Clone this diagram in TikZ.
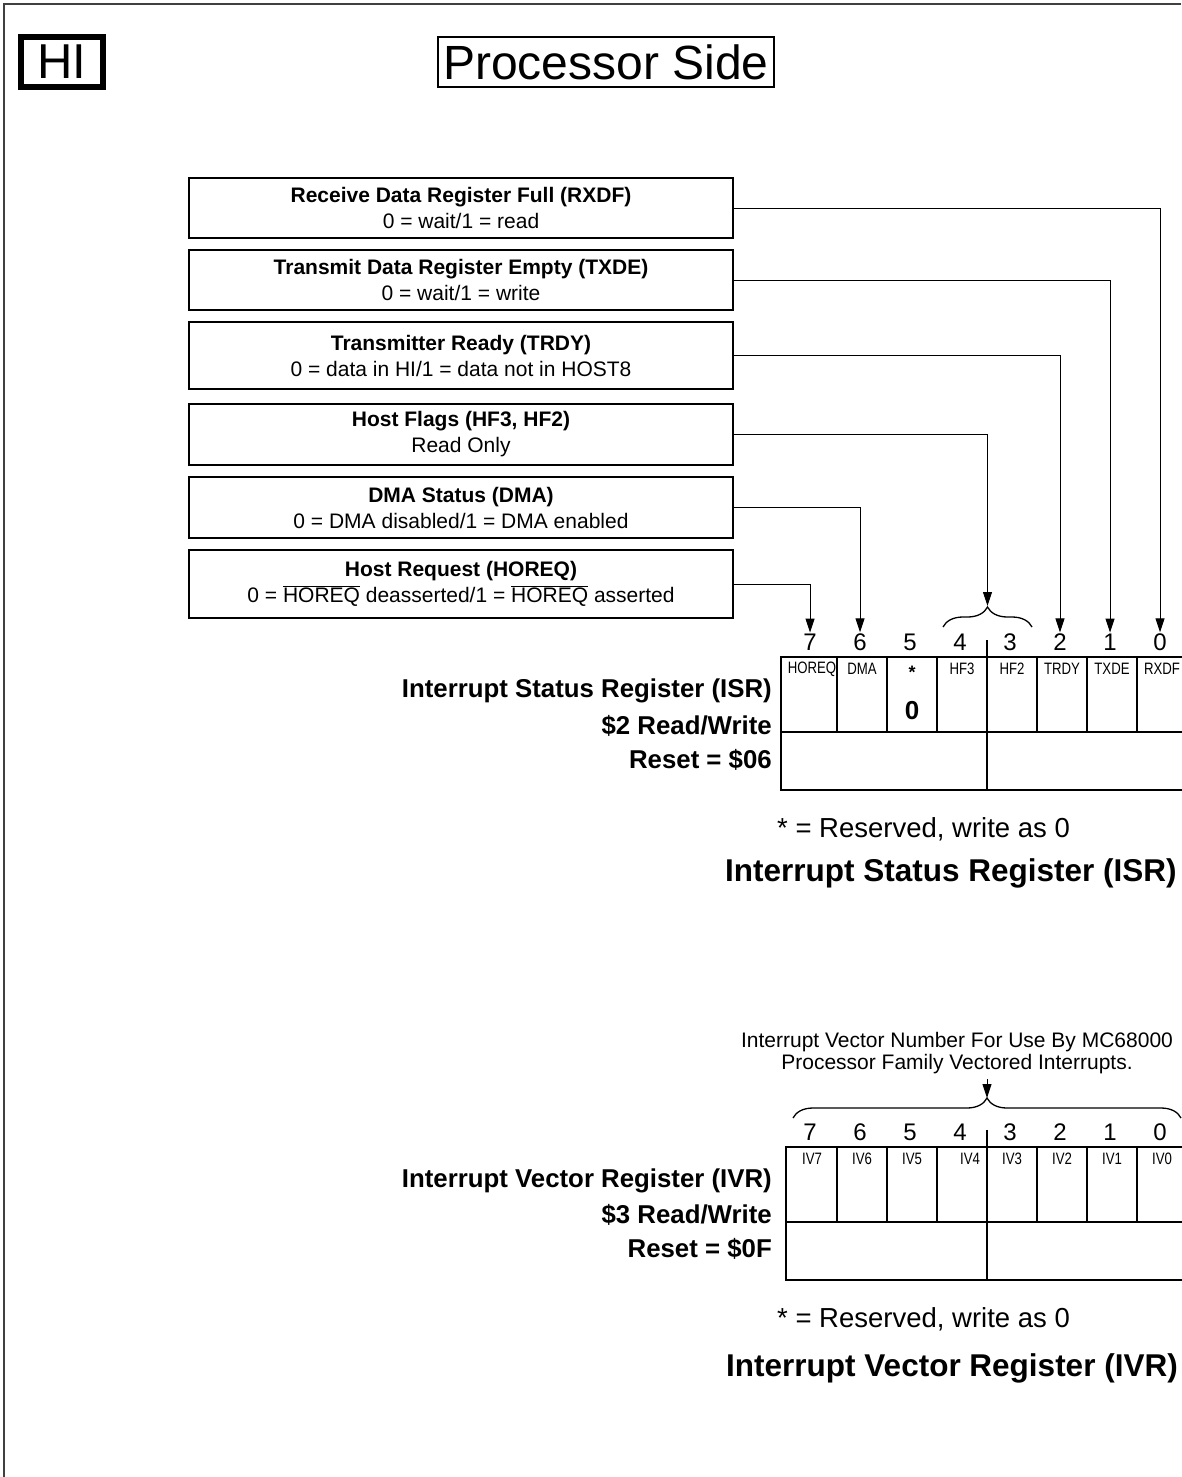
\documentclass[tikz,border=0pt]{standalone}
\usepackage{fontspec}
\setmainfont{Liberation Sans}
\newfontfamily\narrowfont[FakeStretch=0.8]{Liberation Sans}
\usetikzlibrary{positioning, calc, arrows.meta, decorations.pathreplacing}

\begin{document}
\begin{tikzpicture}[
    x=1pt, y=-1pt,
    descbox/.style={
        draw,
        line width=1.2pt,
        minimum width=544pt,
        inner sep=0pt,
        align=center,
        font=\fontsize{21}{26}\selectfont
    },
    bitnum/.style={
        font=\fontsize{24}{24}\selectfont,
        inner sep=1pt
    },
    celltag/.style={
        font=\narrowfont\fontsize{16.5}{16.5}\selectfont,
        inner sep=0pt
    },
    reglabel/.style={
        font=\bfseries\fontsize{25.8}{25.8}\selectfont,
        anchor=east,
        inner sep=0pt
    },
    notetext/.style={
        font=\fontsize{27.5}{27.5}\selectfont,
        anchor=west,
        inner sep=0pt
    },
    heading/.style={
        font=\bfseries\fontsize{31.5}{31.5}\selectfont,
        anchor=west,
        inner sep=0pt
    },
    arrow/.style={
        -{Triangle[length=14pt, width=9pt]},
        line width=1pt
    },
    regline/.style={
        line width=1.3pt
    },
    bracket/.style={
        decorate,
        decoration={brace, amplitude=#1},
        line width=1.3pt
    }
]

\useasboundingbox (0,0) rectangle (1181,1477);

% Page frame (open to the right and bottom)
\draw[line width=2pt, black!75] (1181,4) -- (4,4) -- (4,1477);

% Title boxes
\node[draw, line width=6pt, minimum width=82pt, minimum height=50pt,
      inner sep=0pt, font=\fontsize{49}{49}\selectfont] (hi) at (62,62) {HI};
\node[draw, line width=2pt, minimum width=336pt, minimum height=50pt,
      inner sep=0pt, font=\fontsize{48}{48}\selectfont] (side) at (606,62) {Processor Side};

% Bit descriptions
\node[descbox, minimum height=60pt] (rxdf) at (461,208)
    {\textbf{Receive Data Register Full (RXDF)}\\0 = wait/1 = read};
\node[descbox, minimum height=60pt] (txde) at (461,280)
    {\textbf{Transmit Data Register Empty (TXDE)}\\0 = wait/1 = write};
\node[descbox, minimum height=67pt] (trdy) at (461,355.5)
    {\textbf{Transmitter Ready (TRDY)}\\0 = data in HI/1 = data not in HOST8};
\node[descbox, minimum height=61pt] (hf) at (461,434.5)
    {\textbf{Host Flags (HF3, HF2)}\\Read Only};
\node[descbox, minimum height=61pt] (dma) at (461,507.5)
    {\textbf{DMA Status (DMA)}\\0 = DMA disabled/1 = DMA enabled};
\node[descbox, minimum height=68pt] (horeq) at (461,584)
    {\textbf{Host Request (HOREQ)}\\0 = $\overline{\mbox{HOREQ}}$ deasserted/1 = $\overline{\mbox{HOREQ}}$ asserted};

% Macro: one 8-bit register with split lower half
\newcommand{\drawregister}[3]{%
  % #1 = top y, #2 = left x, #3 = name prefix
  \draw[regline] (#2,#1) rectangle (1195,#1+133);
  \draw[regline] (#2,#1+75) -- (1195,#1+75);
  \foreach \k in {0,...,6} {
    \draw[regline] (837+50*\k,#1) -- (837+50*\k,#1+75);
  }
  \draw[regline] (987,#1-17) -- (987,#1+133);
  \foreach \b in {0,...,7} {
    \node[bitnum] (#3\b) at (1160-50*\b,#1-15) {\b};
  }
}

% ISR
\drawregister{657}{781}{isr}
\foreach \b/\tag in {7/HOREQ, 6/DMA, 4/HF3, 3/HF2, 2/TRDY, 1/TXDE, 0/RXDF} {
  \node[celltag] at (1162-50*\b,669) {\tag};
}
\node[font=\bfseries\fontsize{18}{18}\selectfont, inner sep=0pt] at (912,672) {*};
\node[font=\bfseries\fontsize{26}{26}\selectfont, inner sep=0pt] at (912,711) {0};

\node[reglabel] at (772,691) {Interrupt Status Register (ISR)};
\node[reglabel] at (772,726) {\$2 Read/Write};
\node[reglabel] at (772,760) {Reset = \$06};

\draw[bracket=20pt] (943,627) -- (1032,627);
\coordinate (hftip) at (987.5,606);

\draw[arrow] (rxdf.east) -| (isr0.north);
\draw[arrow] (txde.east) -| (isr1.north);
\draw[arrow] (trdy.east) -| (isr2.north);
\draw[arrow] (hf.east) -| (hftip);
\draw[arrow] (dma.east) -| (isr6.north);
\draw[arrow] (horeq.east) -| (isr7.north);

\node[notetext] at (777,829) {* = Reserved, write as 0};
\node[heading] (isrhead) at (725,873) {Interrupt Status Register (ISR)};

% IVR
\node[align=center, inner sep=0pt, font=\fontsize{21}{22}\selectfont]
    (ivnote) at (957,1053)
    {Interrupt Vector Number For Use By MC68000\\Processor Family Vectored Interrupts.};

\drawregister{1147}{786}{ivr}
\foreach \b in {7,6,5,3,2,1,0} {
  \node[celltag] at (1162-50*\b,1159) {IV\b};
}
\node[celltag] at (970,1159) {IV4};

\node[reglabel] at (772,1181) {Interrupt Vector Register (IVR)};
\node[reglabel] at (772,1215) {\$3 Read/Write};
\node[reglabel] at (772,1249) {Reset = \$0F};

\draw[bracket=20pt] (793,1118) -- (1181,1118);
\coordinate (ivtip) at (987,1098);
\draw[arrow] (ivnote.south -| ivtip) ++(0,5) -- (ivtip);

\node[notetext] at (777,1319) {* = Reserved, write as 0};
\node[heading] (ivrhead) at (726,1368) {Interrupt Vector Register (IVR)};

\end{tikzpicture}
\end{document}
